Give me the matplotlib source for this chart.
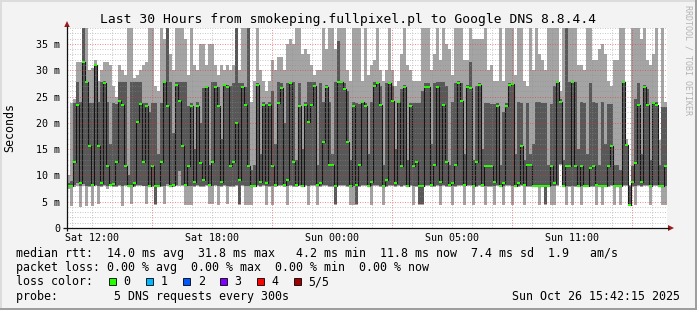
import matplotlib
matplotlib.use("Agg")
import matplotlib.pyplot as plt
import numpy as np
from matplotlib.patches import Rectangle, Polygon

# ---------------- data (ms), one value per 9-minute step, 200 steps = 30 h ----------------
ping_min = [7.5, 4.2, 7.8, 8.0, 4.0, 8.0, 4.2, 7.8, 4.2, 8.0, 4.5, 7.8, 8.0, 7.5, 8.0, 7.8, 7.8, 8.0, 4.2, 7.9,
            7.8, 4.5, 7.8, 8.0, 7.9, 7.9, 4.5, 7.8, 7.8, 4.4, 7.8, 7.8, 4.5, 8.0, 7.8, 7.8, 8.0, 8.0, 8.0, 4.3,
            4.4, 4.3, 7.8, 8.0, 7.8, 7.8, 8.0, 4.6, 4.6, 8.0, 4.4, 7.8, 8.0, 4.5, 7.8, 7.8, 8.0, 4.4, 8.0, 4.4,
            4.4, 4.4, 7.8, 8.0, 7.8, 8.0, 4.4, 7.8, 4.4, 7.8, 8.0, 8.0, 7.8, 4.4, 8.0, 7.8, 7.8, 8.0, 7.8, 8.0,
            4.4, 8.0, 8.0, 4.4, 7.8, 8.0, 8.0, 7.8, 7.8, 4.4, 8.0, 8.0, 8.0, 7.8, 4.4, 4.4, 4.4, 7.8, 8.0, 8.0,
            7.8, 4.4, 8.0, 8.0, 7.8, 4.4, 7.8, 8.0, 8.0, 7.8, 8.0, 7.8, 8.0, 7.8, 8.0, 4.4, 7.8, 4.4, 4.4, 8.0,
            8.0, 7.8, 7.8, 8.0, 4.4, 8.0, 7.8, 7.8, 4.4, 7.8, 8.0, 8.0, 4.4, 8.0, 8.0, 4.4, 7.8, 8.0, 7.8, 4.4,
            7.8, 7.8, 4.4, 8.0, 7.8, 4.4, 8.0, 8.0, 4.4, 7.8, 7.8, 8.0, 4.4, 7.8, 7.8, 7.8, 7.8, 4.4, 7.8, 4.4,
            7.8, 4.4, 4.4, 8.0, 12.0, 7.8, 4.4, 7.8, 4.4, 7.8, 7.8, 4.4, 7.8, 7.8, 7.8, 7.8, 4.4, 7.8, 4.4, 7.8,
            7.8, 8.0, 4.4, 7.8, 4.4, 8.0, 8.0, 4.2, 7.8, 4.4, 8.0, 7.8, 8.0, 8.0, 4.4, 8.0, 8.0, 7.8, 4.4, 4.4]
ping_q1 = [8.0, 8.0, 8.2, 8.5, 8.0, 8.3, 8.0, 8.0, 8.0, 8.2, 8.0, 8.0, 8.2, 8.0, 8.1, 8.0, 8.0, 8.2, 8.0, 8.1,
           8.0, 8.0, 8.0, 8.2, 8.2, 8.0, 8.0, 8.0, 8.0, 4.5, 8.0, 8.0, 8.0, 8.3, 8.0, 8.0, 8.2, 10.8, 8.2, 8.0,
           8.0, 8.0, 8.0, 8.2, 8.0, 8.0, 8.2, 8.0, 8.0, 8.2, 8.0, 8.0, 8.2, 8.0, 8.0, 8.0, 8.2, 4.5, 8.2, 8.0,
           8.0, 8.0, 8.0, 8.2, 8.0, 8.2, 8.0, 8.0, 8.0, 8.0, 8.2, 8.2, 8.0, 8.0, 8.2, 8.0, 8.0, 8.2, 8.0, 8.2,
           8.0, 8.2, 8.2, 8.0, 8.0, 8.2, 8.2, 8.0, 8.0, 4.6, 8.2, 8.2, 8.2, 8.0, 8.0, 8.0, 4.5, 8.0, 8.2, 8.2,
           8.0, 8.0, 8.2, 8.2, 8.0, 8.0, 8.0, 8.2, 8.2, 8.0, 8.2, 8.0, 8.2, 8.0, 8.2, 8.0, 8.0, 4.6, 4.5, 8.2,
           8.2, 8.0, 8.0, 8.2, 8.0, 8.2, 8.0, 8.0, 8.0, 8.0, 8.2, 8.2, 8.0, 8.2, 8.2, 8.0, 8.0, 8.2, 8.0, 8.0,
           8.0, 8.0, 8.0, 8.2, 8.0, 8.0, 8.2, 8.2, 8.0, 8.0, 8.0, 8.2, 8.0, 8.0, 8.0, 8.0, 8.0, 8.0, 8.0, 4.5,
           8.0, 8.0, 8.0, 8.2, 12.2, 8.0, 8.0, 8.0, 8.0, 8.0, 8.0, 8.0, 8.0, 8.0, 8.0, 8.0, 8.0, 8.0, 8.0, 8.0,
           8.0, 8.2, 8.0, 8.0, 8.0, 8.2, 8.2, 4.3, 8.0, 8.0, 8.2, 8.0, 8.2, 8.2, 8.0, 8.2, 8.2, 8.0, 8.0, 8.0]
ping_median = [8.0, 8.0, 12.6, 23.4, 8.5, 31.6, 27.8, 15.5, 8.2, 31.0, 15.5, 8.5, 27.5, 11.8, 8.2, 8.3, 12.6, 24.1, 23.4, 11.7,
               8.0, 8.0, 8.5, 20.1, 23.6, 12.6, 23.1, 8.0, 11.7, 8.0, 8.0, 12.6, 27.8, 23.1, 8.0, 8.2, 27.2, 24.1, 15.5, 8.1,
               11.7, 23.1, 8.8, 23.1, 12.3, 9.1, 26.9, 8.2, 12.6, 26.9, 23.1, 8.8, 27.2, 26.9, 11.7, 12.6, 19.9, 9.1, 26.9, 23.4,
               11.7, 8.0, 8.0, 27.2, 8.8, 23.4, 8.5, 23.4, 11.7, 8.2, 23.8, 26.7, 8.2, 9.1, 27.5, 12.6, 8.2, 23.1, 8.0, 23.4,
               20.2, 23.4, 27.0, 8.2, 8.5, 16.4, 26.9, 12.0, 12.0, 8.0, 27.8, 27.8, 26.5, 16.4, 8.0, 23.1, 8.2, 12.0, 23.9, 23.1,
               8.0, 8.8, 27.0, 27.5, 23.4, 8.0, 9.1, 27.5, 24.1, 8.5, 24.0, 11.7, 26.9, 8.0, 23.1, 11.7, 12.6, 8.0, 8.0, 26.9,
               26.9, 8.2, 12.0, 26.9, 8.8, 23.4, 12.6, 8.2, 8.5, 12.0, 27.5, 24.1, 8.2, 26.9, 26.7, 8.0, 12.6, 27.1, 8.2, 11.7,
               11.7, 11.7, 8.8, 23.1, 8.0, 8.5, 23.1, 27.2, 27.3, 8.0, 8.5, 15.5, 8.2, 11.9, 11.9, 8.0, 8.0, 8.0, 8.0, 8.0,
               8.0, 11.7, 8.5, 27.8, 24.0, 8.0, 11.7, 11.7, 27.8, 11.7, 8.0, 11.7, 8.0, 8.0, 11.5, 11.7, 8.2, 8.0, 8.0, 8.0,
               11.7, 15.5, 8.0, 8.0, 8.0, 27.8, 15.8, 4.4, 8.8, 12.3, 23.4, 8.8, 26.9, 23.4, 8.0, 23.8, 23.4, 8.0, 8.0, 11.7]
ping_q3 = [8.5, 9.0, 23.7, 27.8, 24.0, 38.5, 28.0, 23.7, 23.8, 31.2, 24.0, 27.8, 28.0, 24.0, 16.0, 23.8, 23.5, 27.8, 27.8, 27.8,
           10.0, 27.8, 27.8, 27.8, 27.8, 23.8, 23.7, 22.0, 23.7, 23.7, 14.0, 23.8, 28.0, 38.5, 27.8, 18.0, 27.8, 27.8, 27.8, 27.8,
           23.2, 23.8, 15.0, 24.0, 20.0, 26.7, 27.0, 12.0, 27.8, 27.8, 26.9, 17.0, 27.4, 27.2, 27.0, 27.5, 38.5, 27.5, 27.5, 26.9,
           38.5, 11.0, 12.0, 27.5, 14.0, 24.0, 23.5, 24.0, 26.0, 16.0, 27.8, 27.5, 20.0, 27.5, 27.8, 27.8, 13.0, 27.5, 15.0, 24.0,
           27.8, 27.8, 27.8, 12.0, 27.5, 24.0, 27.2, 24.0, 14.0, 27.8, 35.5, 28.0, 27.5, 26.0, 13.0, 24.0, 23.7, 23.5, 24.0, 23.7,
           14.0, 24.0, 27.8, 27.8, 27.0, 12.0, 27.5, 27.8, 27.0, 15.0, 24.2, 26.5, 27.2, 13.0, 23.8, 23.7, 23.7, 23.7, 26.0, 27.5,
           27.5, 16.0, 27.5, 27.8, 27.8, 27.8, 27.0, 12.0, 24.0, 27.5, 28.0, 27.5, 14.0, 27.2, 31.6, 13.0, 27.0, 27.5, 15.0, 23.8,
           23.8, 23.5, 23.5, 23.7, 12.0, 22.0, 23.7, 27.5, 27.5, 14.0, 24.0, 23.8, 13.0, 23.7, 14.0, 16.0, 24.0, 24.0, 23.8, 23.8,
           12.0, 23.5, 27.0, 28.0, 24.5, 13.0, 38.5, 27.8, 28.0, 27.8, 15.0, 24.0, 23.8, 14.0, 27.5, 24.0, 23.8, 12.0, 24.0, 16.0,
           23.5, 23.5, 12.0, 12.0, 11.0, 28.0, 16.0, 7.9, 11.7, 24.5, 27.5, 14.0, 27.2, 26.5, 13.0, 24.0, 24.0, 12.0, 23.0, 23.0]
ping_max = [10.0, 23.7, 24.5, 31.5, 31.6, 39.0, 38.5, 30.0, 30.5, 32.0, 28.0, 30.0, 31.5, 31.5, 31.0, 27.0, 25.0, 31.0, 30.0, 29.0,
            38.5, 38.5, 28.5, 29.0, 30.0, 31.0, 31.5, 38.5, 38.5, 27.0, 26.0, 38.5, 36.0, 39.0, 33.0, 30.0, 38.5, 38.0, 38.5, 36.0,
            29.0, 38.0, 31.0, 30.0, 35.0, 35.0, 31.0, 35.0, 35.0, 31.0, 29.0, 31.0, 30.0, 31.0, 30.0, 31.0, 39.0, 30.0, 38.0, 38.0,
            39.0, 24.0, 28.0, 38.5, 30.0, 28.0, 26.0, 28.0, 32.0, 30.0, 32.6, 32.6, 30.0, 35.0, 36.0, 35.0, 38.5, 38.5, 33.0, 34.0,
            33.0, 31.0, 29.0, 30.0, 30.0, 38.5, 34.0, 38.5, 38.5, 34.0, 38.5, 38.5, 38.5, 30.0, 28.0, 38.5, 38.5, 38.5, 28.0, 38.5,
            29.0, 31.0, 32.0, 38.0, 30.0, 28.0, 30.0, 38.5, 30.0, 27.0, 28.0, 33.0, 38.5, 31.0, 30.0, 28.0, 28.0, 28.0, 38.5, 38.5,
            38.5, 30.0, 33.0, 38.5, 32.0, 38.5, 35.0, 34.0, 29.0, 38.5, 38.5, 38.0, 32.0, 32.0, 38.5, 36.0, 36.0, 36.0, 36.0, 38.5,
            30.0, 31.0, 28.0, 28.0, 38.5, 28.0, 38.5, 38.5, 38.5, 29.0, 38.5, 38.5, 28.0, 27.0, 38.5, 30.0, 38.5, 33.0, 32.0, 30.0,
            38.5, 38.5, 38.0, 38.0, 26.0, 38.5, 39.0, 38.5, 38.5, 38.5, 31.0, 31.0, 30.0, 38.5, 38.5, 32.0, 32.0, 34.0, 35.0, 33.0,
            28.0, 27.0, 32.0, 32.0, 38.5, 38.5, 17.0, 8.1, 38.5, 38.5, 38.5, 36.0, 38.5, 32.0, 31.0, 33.0, 38.5, 16.7, 38.5, 24.0]

step_hours = 0.15                      # 9 minutes per step
x_tick_hours = [1.23, 7.23, 13.23, 19.23, 25.23]
x_tick_labels = ["Sat 12:00", "Sat 18:00", "Sun 00:00", "Sun 05:00", "Sun 11:00"]
y_ticks = [0, 5, 10, 15, 20, 25, 30, 35]
y_tick_labels = ["0", "5 m", "10 m", "15 m", "20 m", "25 m", "30 m", "35 m"]

loss_labels = ["0", "1", "2", "3", "4", "5/5"]
loss_colors = ["#26ff00", "#00b8ff", "#0059ff", "#7e00ff", "#ff0000", "#a00000"]

title = "Last 30 Hours from smokeping.fullpixel.pl to Google DNS 8.8.4.4"
legend_rtt = "median rtt:  14.0 ms avg  31.8 ms max   4.2 ms min  11.8 ms now  7.4 ms sd  1.9   am/s"
legend_loss = "packet loss: 0.00 % avg  0.00 % max  0.00 % min  0.00 % now"
legend_probe = "probe:        5 DNS requests every 300s"
stamp = "Sun Oct 26 15:42:15 2025"

# ---------------- figure ----------------
W, H = 697, 310
MONO = "DejaVu Sans Mono"
fig = plt.figure(figsize=(W / 100, H / 100), dpi=100, facecolor="#f3f3f3")

ax = fig.add_axes([67 / W, (H - 228) / H, 600 / W, 200.3 / H])
ax.set_facecolor("white")
for s in ax.spines.values():
    s.set_visible(False)

lo = np.array(ping_min)
q1 = np.array(ping_q1)
med = np.array(ping_median)
q3 = np.array(ping_q3)
hi = np.array(ping_max)
t = np.arange(len(med)) * step_hours

ax.bar(t, hi - lo, bottom=lo, width=step_hours, align="edge", color="#a4a4a4",
       linewidth=0, antialiased=False, zorder=1)
ax.bar(t, q3 - q1, bottom=q1, width=step_hours, align="edge", color="#585858",
       linewidth=0, antialiased=False, zorder=2)
ax.step(np.r_[t, t[-1] + step_hours], np.r_[med, med[-1]], where="post",
        color="#151515", lw=0.8, zorder=3)
ax.bar(t, 0.38, bottom=med - 0.19, width=step_hours, align="edge", color=loss_colors[0],
       linewidth=0, antialiased=False, zorder=4)

ax.set_xlim(0, 30)
ax.set_ylim(0, 38.08)

# grid (drawn on top, like rrdtool)
minor_c = (0.55, 0.55, 0.55, 0.45)
major_c = (0.9, 0.2, 0.2, 0.55)
for y in range(1, 39):
    if y % 5:
        ax.axhline(y, color=minor_c, lw=0.72, ls=(0, (1, 1.5)), zorder=5)
for y in range(5, 40, 5):
    ax.axhline(y, color=major_c, lw=0.72, ls=(0, (1, 1.5)), zorder=6)
for h in np.arange(0.23, 30, 1.0):
    if abs((h - 4.23) % 6) < 1e-6 or abs((h - 4.23) % 6 - 6) < 1e-6:
        ax.axvline(h, color=major_c, lw=0.72, ls=(0, (1, 1.5)), zorder=6)
    else:
        ax.axvline(h, color=minor_c, lw=0.72, ls=(0, (1, 1.5)), zorder=5)

ax.set_xticks(x_tick_hours, x_tick_labels)
ax.set_yticks(y_ticks, y_tick_labels)
ax.tick_params(axis="x", length=0, pad=3.8, labelsize=7.2)
ax.tick_params(axis="y", length=0, pad=5.0, labelsize=7.2)
for lab in ax.get_xticklabels() + ax.get_yticklabels():
    lab.set_fontfamily(MONO)

# ---------------- overlay in pixel coordinates ----------------
ov = fig.add_axes([0, 0, 1, 1])
ov.set_xlim(0, W)
ov.set_ylim(H, 0)
ov.axis("off")
ov.patch.set_alpha(0)

# frame shading
ov.add_patch(Rectangle((0, 0), W, 2, color="#dcdcdc", lw=0))
ov.add_patch(Rectangle((0, 0), 2, H, color="#dcdcdc", lw=0))
ov.add_patch(Rectangle((0, H - 2), W, 2, color="#9e9e9e", lw=0))
ov.add_patch(Rectangle((W - 2, 0), 2, H, color="#9e9e9e", lw=0))

# axes with arrows
ov.plot([63, 669], [228, 228], color="#111111", lw=0.9, solid_capstyle="butt")
ov.plot([67, 67], [231, 26], color="#111111", lw=0.9, solid_capstyle="butt")
ov.add_patch(Polygon([(668, 225), (668, 231), (674, 228)], closed=True, color="#9b1c1c", lw=0))
ov.add_patch(Polygon([(64.2, 27), (69.8, 27), (67, 21)], closed=True, color="#9b1c1c", lw=0))

ov.text(348.5, 23, title, fontsize=9.4, family=MONO, ha="center", va="baseline", color="black")
ov.text(10, 128, "Seconds", fontsize=8.4, family=MONO, ha="center", va="center", rotation=90)
ov.text(688, 5, "RRDTOOL / TOBI OETIKER", fontsize=6, family=MONO, ha="center", va="top",
        rotation=270, color="#b4b4b4")

ov.text(16, 257, legend_rtt, fontsize=8.4, family=MONO, va="baseline")
ov.text(16, 271.2, legend_loss, fontsize=8.4, family=MONO, va="baseline")
ov.text(16, 285.4, "loss color:", fontsize=8.4, family=MONO, va="baseline")
for i, (lab, col) in enumerate(zip(loss_labels, loss_colors)):
    x0 = 108.5 + 37.0 * i
    ov.add_patch(Rectangle((x0, 278), 7.2, 7.2, facecolor=col, edgecolor="black", lw=0.6))
    ov.text(x0 + 15.2, 285.4, lab, fontsize=8.4, family=MONO, va="baseline")
ov.text(16, 299.6, legend_probe, fontsize=8.4, family=MONO, va="baseline")
ov.text(680, 299.6, stamp, fontsize=8.4, family=MONO, ha="right", va="baseline")

fig.savefig("out.png", dpi=100, facecolor=fig.get_facecolor())
